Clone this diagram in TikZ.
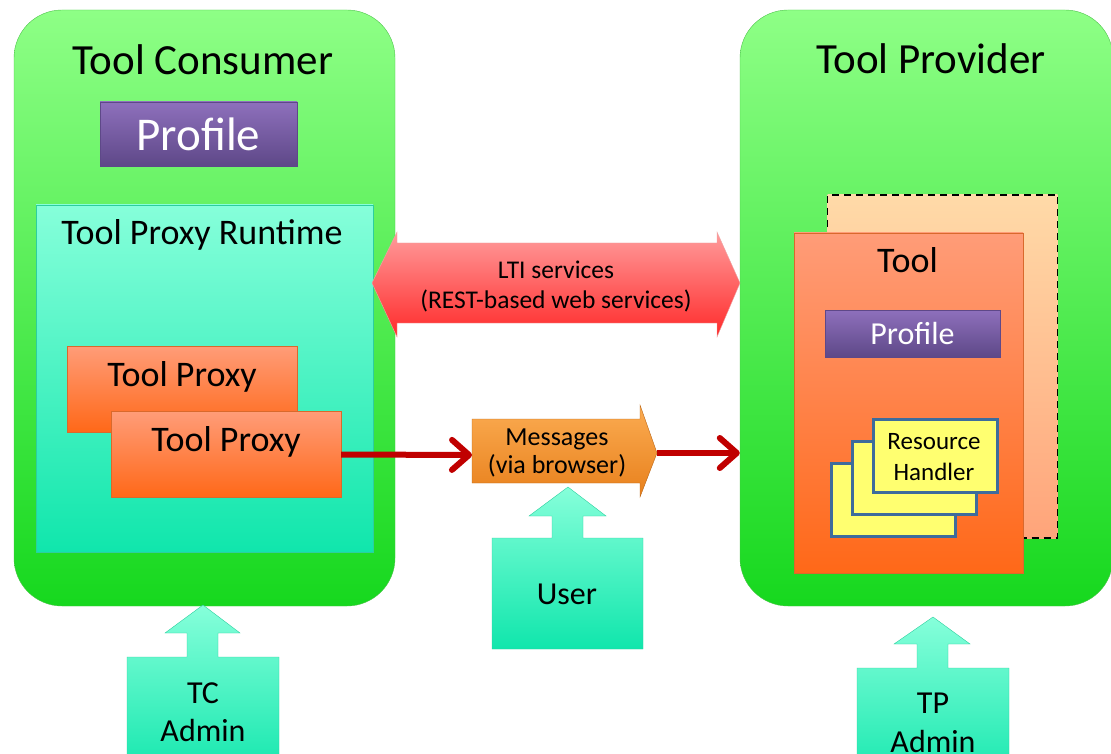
\documentclass[tikz,border=0pt]{standalone}
\usepackage{fontspec}
\setmainfont{Carlito}
\usetikzlibrary{positioning, arrows.meta}
\definecolor{greentop}{HTML}{8EFF86}
\definecolor{greenbot}{HTML}{16D81E}
\definecolor{greenline}{HTML}{4CC24A}
\definecolor{aquatop}{HTML}{86FFDA}
\definecolor{aquabot}{HTML}{10E6AC}
\definecolor{aqualine}{HTML}{2CCF9E}
\definecolor{purpletop}{HTML}{8E70BC}
\definecolor{purplebot}{HTML}{5E4888}
\definecolor{orangetop}{HTML}{FF9C78}
\definecolor{orangebot}{HTML}{FF6818}
\definecolor{orangeline}{HTML}{D9692C}
\definecolor{peachtop}{HTML}{FFDAA8}
\definecolor{peachbot}{HTML}{FFA47A}
\definecolor{msgtop}{HTML}{FBAC52}
\definecolor{msgbot}{HTML}{E8801C}
\definecolor{ltitop}{HTML}{FF9C9C}
\definecolor{ltibot}{HTML}{FF2A2A}
\definecolor{handlerfill}{HTML}{FFFF70}
\definecolor{handlerline}{HTML}{3D6C9C}
\definecolor{linkred}{HTML}{C00000}
\tikzset {
    party/.style={draw=greenline, rounded corners=48pt, top color=greentop, bottom color=greenbot, minimum height=596pt},
    runtime/.style={draw=aqualine, top color=aquatop, bottom color=aquabot},
    profile/.style={draw=purplebot, top color=purpletop, bottom color=purplebot, text=white, inner sep=0pt},
    proxy/.style={draw=orangeline, top color=orangetop, bottom color=orangebot, minimum width=230pt, minimum height=86pt},
    handler/.style={draw=handlerline, line width=3pt, fill=handlerfill, minimum width=124pt, minimum height=73pt},
    actor/.style={draw=aqualine, top color=aquatop, bottom color=aquabot},
    caption/.style={inner sep=0pt, anchor=base, align=center},
    link/.style={draw=linkred, line width=6pt, -{Straight Barb[length=17pt, width=30pt, round]}}
}
\begin{document}
\begin{tikzpicture}[x=1pt, y=-1pt]
\useasboundingbox (0,0) rectangle (1111,754);

% consumer and provider
\node[party, minimum width=381pt] (tc) at (204.5,308) {};
\node[party, minimum width=373pt] (tp) at (926.5,308) {};
\node[caption, font=\fontsize{43}{46}\selectfont] (tctitle) at (203,75) {Tool Consumer};
\node[caption, font=\fontsize{43}{46}\selectfont] (tptitle) at (931,74) {Tool Provider};

% consumer side
\node[profile, minimum width=197pt, minimum height=64pt, font=\fontsize{47}{50}\selectfont] (tcprofile) at (198.5,134) {Profile};
\node[runtime, minimum width=337pt, minimum height=347pt] (tpr) at (204.5,378.5) {};
\node[caption, font=\fontsize{36}{38}\selectfont] (tprtitle) at (202,244) {Tool Proxy Runtime};
\node[proxy] (proxyA) at (182.5,389) {};
\node[proxy] (proxyB) at (226,454.5) {};
\node[caption, font=\fontsize{36}{38}\selectfont] at (182,386) {Tool Proxy};
\node[caption, font=\fontsize{36}{38}\selectfont] at (226,451) {Tool Proxy};

% provider side
\node[draw, dashed, line width=1.8pt, dash pattern=on 7pt off 5pt, top color=peachtop, bottom color=peachbot, minimum width=230pt, minimum height=343pt] (toolback) at (942.5,366.5) {};
\node[proxy, minimum width=229pt, minimum height=340pt] (tool) at (908.5,403) {};
\node[caption, font=\fontsize{36}{40}\selectfont] (tooltitle) at (907.5,272) {Tool};
\node[profile, minimum width=175pt, minimum height=47pt, font=\fontsize{32}{34}\selectfont] (tpprofile) at (912.5,333.5) {Profile};
\node[handler] (hb1) at (893,499.5) {};
\node[handler] (hb2) at ([shift={(21.5,-21.5)}]hb1.center) {};
\node[handler] (hb3) at ([shift={(21,-22)}]hb2.center) {};
\node[caption, font=\fontsize{25}{31}\selectfont] (hbtext) at (934,480) {Resource\\Handler};

% LTI services
\path[draw=ltibot!80!black!40, top color=ltitop, bottom color=ltibot]
    (372,283) -- (397,232) -- (397,243) -- (717,243) -- (717,232) -- (740,283)
    -- (717,337) -- (717,323) -- (397,323) -- (397,337) -- cycle;
\node[caption, font=\fontsize{25.5}{30}\selectfont] (lti) at (556,308) {LTI services\\(REST-based web services)};

% messages
\path[draw=msgbot!80!black, top color=msgtop, bottom color=msgbot]
    (472,419) -- (640,419) -- (640,405) -- (657,453) -- (640,497) -- (640,483) -- (472,483) -- cycle;
\coordinate (msgin) at (472,455);
\coordinate (msgout) at (657,453);
\node[caption, font=\fontsize{26}{28}\selectfont] (msg) at (557,473) {Messages\\(via browser)};
\draw[link] (proxyB.east) -- (msgin);
\draw[link] (msgout) -- (tp.west |- msgout);

% user and admins
\path[actor] (492,649) -- (492,538) -- (552,538) -- (552,516) -- (529,516) -- (568,487)
    -- (606,516) -- (583,516) -- (583,538) -- (643,538) -- (643,649) -- cycle;
\node[caption, font=\fontsize{32}{38}\selectfont] (user) at (567,604) {User};
\path[actor] (127,780) -- (127,657) -- (187,657) -- (187,633) -- (165,633) -- (203,605)
    -- (240,633) -- (218,633) -- (218,657) -- (279,657) -- (279,780) -- cycle;
\node[caption, font=\fontsize{32}{38}\selectfont] (tcadmin) at (203,741) {TC\\Admin};
\path[actor] (857,790) -- (857,668) -- (917,668) -- (917,644) -- (894,644) -- (933,617)
    -- (970,644) -- (948,644) -- (948,668) -- (1009,668) -- (1009,790) -- cycle;
\node[caption, font=\fontsize{32}{39}\selectfont] (tpadmin) at (933,752) {TP\\Admin};
\end{tikzpicture}
\end{document}
